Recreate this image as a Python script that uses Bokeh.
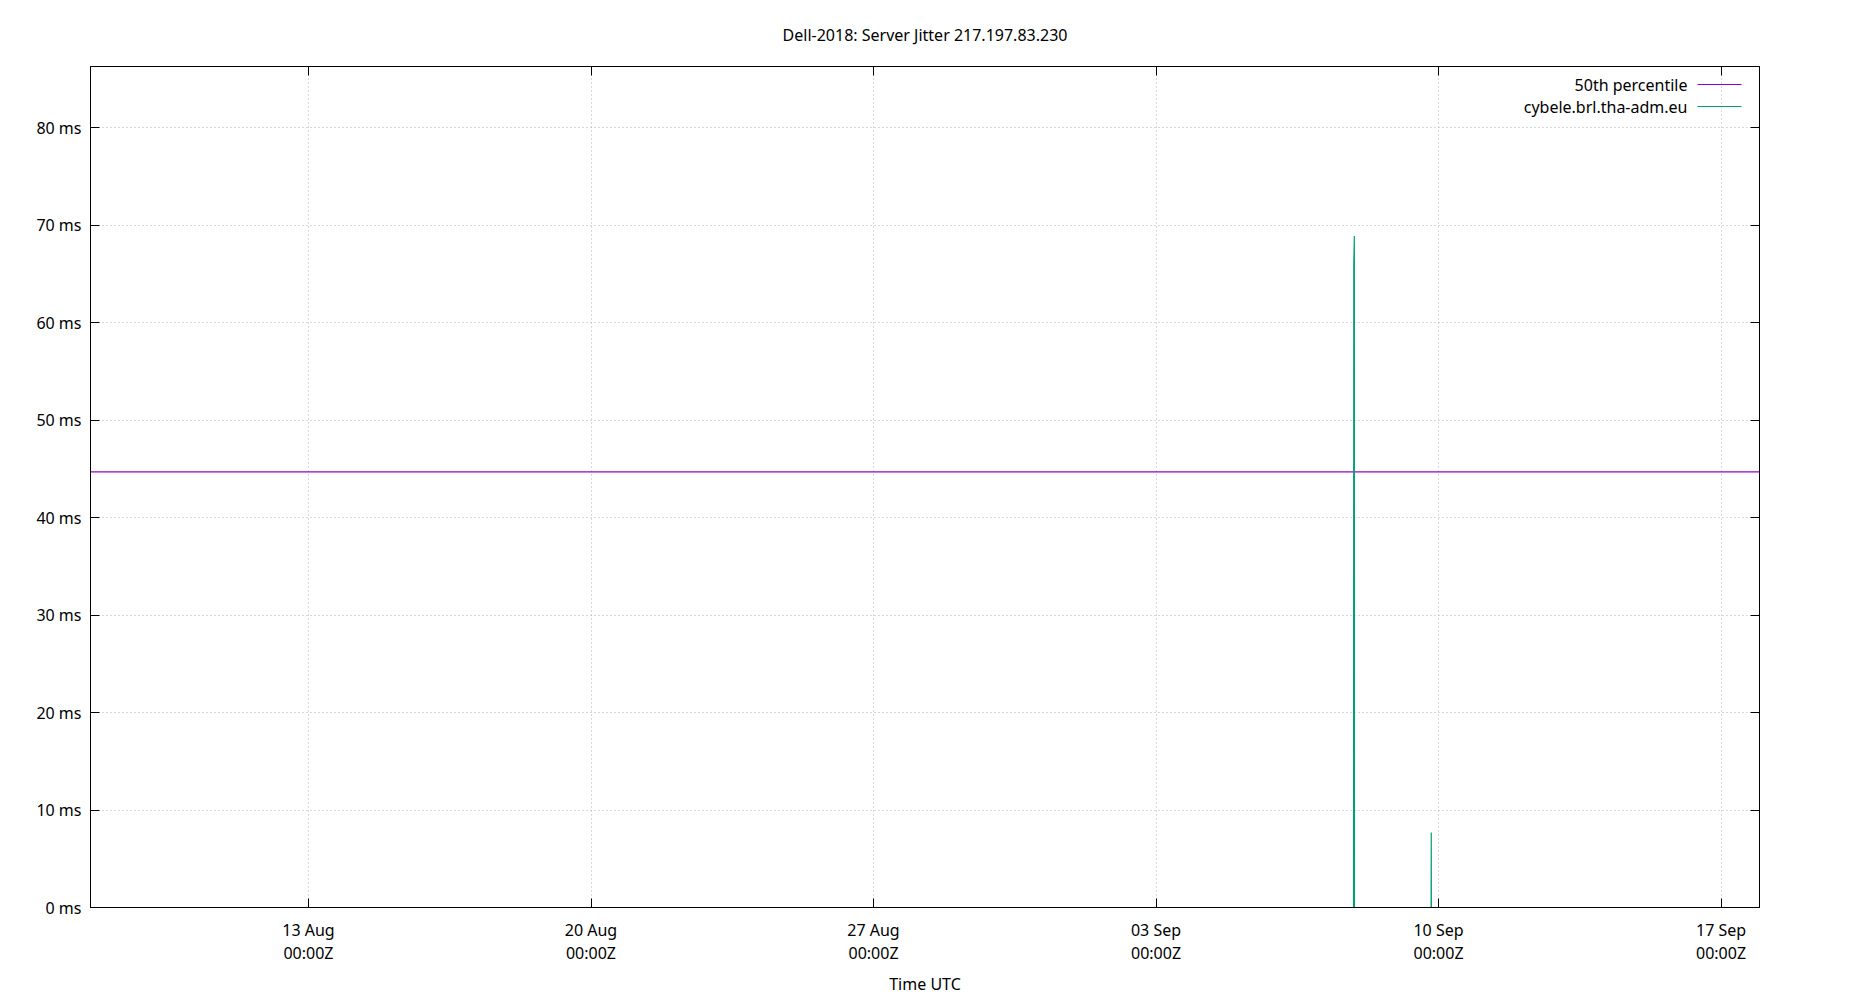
import numpy as np
import pandas as pd
from bokeh.plotting import figure
from bokeh.models import (Range1d, FixedTicker, DatetimeTickFormatter, PrintfTickFormatter,
                          DatetimeAxis, LinearAxis, Label, Arrow, ColumnDataSource)
from bokeh.embed import file_html
from bokeh.resources import INLINE

# ---------------- data ----------------
title_text = "Dell-2018: Server Jitter 217.197.83.230"
x_label = "Time UTC"

x_start = "2018-08-07 14:22"
x_end = "2018-09-17 22:52"
y_max = 86.3

x_tick_dates = ["2018-08-13", "2018-08-20", "2018-08-27", "2018-09-03", "2018-09-10", "2018-09-17"]
y_tick_values = [0, 10, 20, 30, 40, 50, 60, 70, 80]

pct_name = "50th percentile"
pct_times = [x_start, x_end]
pct_values = [44.7, 44.7]

srv_name = "cybele.brl.tha-adm.eu"
srv_times = ["2018-09-07 21:27", "2018-09-07 21:35", "2018-09-07 21:56", "2018-09-07 22:00",
             "2018-09-08 12:00",
             "2018-09-09 19:35", "2018-09-09 19:40", "2018-09-09 19:45"]
srv_values = [0.0, 66.0, 68.9, 0.0, np.nan, 0.0, 7.7, 0.0]

# ---------------- style ----------------
FONT = "Noto Sans"
FS = "16px"
PURPLE = "#9400d3"
GREEN = "#009e73"


def to_ms(lst):
    return [int((pd.Timestamp(t) - pd.Timestamp("1970-01-01")) / pd.Timedelta("1ms")) for t in lst]


x_ticks = to_ms(x_tick_dates)

p = figure(width=1842, height=1000, output_backend="svg", toolbar_location=None,
           x_axis_type="datetime",
           x_range=Range1d(pd.Timestamp(x_start), pd.Timestamp(x_end)),
           y_range=Range1d(0, y_max),
           min_border_left=90, min_border_right=83, min_border_top=65, min_border_bottom=93)

p.background_fill_color = "white"
p.border_fill_color = "white"
p.outline_line_color = "black"
p.outline_line_width = 1
p.outline_line_alpha = 1

# title
p.title.text = title_text
p.title.align = "center"
p.title.text_font = FONT
p.title.text_font_size = FS
p.title.text_font_style = "normal"
p.title.text_color = "black"
p.title.standoff = 42

fmt = "%d %b\n%H:%MZ"
dt_fmt = DatetimeTickFormatter(days=fmt, months=fmt, hours=fmt, years=fmt, minutes=fmt,
                               hourmin=fmt, seconds=fmt, minsec=fmt, milliseconds=fmt,
                               microseconds=fmt)

xa = p.xaxis[0]
xa.ticker = FixedTicker(ticks=x_ticks)
xa.formatter = dt_fmt
xa.axis_label = x_label
ya = p.yaxis[0]
ya.ticker = FixedTicker(ticks=y_tick_values)
ya.formatter = PrintfTickFormatter(format="%d ms")

for ax in (xa, ya):
    ax.major_tick_in = 9
    ax.major_tick_out = 0
    ax.minor_tick_line_color = None
    ax.axis_line_color = "black"
    ax.major_tick_line_color = "black"
    ax.major_label_text_font = FONT
    ax.major_label_text_font_size = FS
    ax.major_label_text_color = "black"
    ax.axis_label_text_font = FONT
    ax.axis_label_text_font_size = FS
    ax.axis_label_text_font_style = "normal"
    ax.axis_label_text_color = "black"
xa.major_label_text_line_height = 1.05
xa.major_label_standoff = 11
xa.axis_label_standoff = 6
ya.major_label_standoff = 9

# mirrored ticks
top = DatetimeAxis(ticker=FixedTicker(ticks=x_ticks), formatter=dt_fmt,
                   major_tick_in=9, major_tick_out=0, minor_tick_line_color=None,
                   major_label_text_font_size="0px", major_label_text_color=None,
                   major_label_standoff=0, axis_line_color="black")
right = LinearAxis(ticker=FixedTicker(ticks=y_tick_values),
                   major_tick_in=9, major_tick_out=0, minor_tick_line_color=None,
                   major_label_text_font_size="0px", major_label_text_color=None,
                   major_label_standoff=0, axis_line_color="black")
p.add_layout(top, "above")
p.add_layout(right, "right")

# grid
p.xgrid.ticker = FixedTicker(ticks=x_ticks)
p.ygrid.ticker = FixedTicker(ticks=y_tick_values)
for g in (p.xgrid[0], p.ygrid[0]):
    g.grid_line_color = "#a0a0a0"
    g.grid_line_alpha = 0.8
    g.grid_line_dash = "1 3"
    g.grid_line_width = 1

# series
pct_src = ColumnDataSource(dict(t=pd.to_datetime(pct_times), v=pct_values))
srv_src = ColumnDataSource(dict(t=pd.to_datetime(srv_times), v=srv_values))
p.line("t", "v", source=pct_src, line_color=PURPLE, line_width=1.2)
p.line("t", "v", source=srv_src, line_color=GREEN, line_width=1.2)

# legend (gnuplot style: text right-aligned, sample line to the right)
leg_text_x = 1597
leg_line_x0 = 1607
leg_line_x1 = 1651
leg_rows_y = [823, 801]
for name, col, yy in zip([pct_name, srv_name], [PURPLE, GREEN], leg_rows_y):
    p.add_layout(Label(x=leg_text_x, y=yy, x_units="screen", y_units="screen", text=name,
                       text_align="right", text_baseline="middle", text_font=FONT,
                       text_font_size=FS, text_color="black"))
    p.add_layout(Arrow(end=None, x_start=leg_line_x0, y_start=yy, x_end=leg_line_x1, y_end=yy,
                       start_units="screen", end_units="screen", line_color=col, line_width=1.2))

open("out.html", "w").write(file_html(p, INLINE))
